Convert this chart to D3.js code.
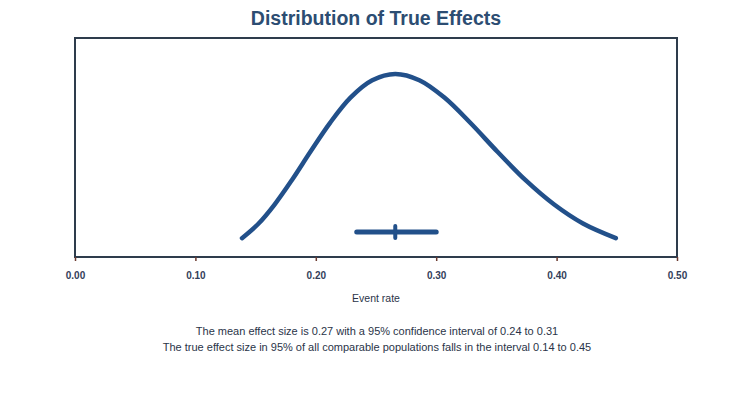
<!DOCTYPE html>
<html><head><meta charset="utf-8">
<script src="https://cdn.jsdelivr.net/npm/d3@7"></script>
<style>body{margin:0;background:#fff;}svg{display:block;}</style>
</head><body>
<svg id="c" width="753" height="413"></svg>
<script>
// Data
const curveX = [0.1387,0.1525,0.1659,0.1802,0.1955,0.2117,0.2288,0.2469,0.2660,0.2860,0.3068,0.3285,0.3509,0.3740,0.3977,0.4219,0.4492];
const curveY = [0.103,0.183,0.288,0.421,0.575,0.732,0.871,0.966,1.000,0.966,0.871,0.732,0.575,0.421,0.288,0.183,0.103];
const ciLow = 0.234, ciHigh = 0.300, meanValue = 0.266;
const tickValues = [0.0,0.1,0.2,0.3,0.4,0.5];
const titleText = "Distribution of True Effects";
const xLabel = "Event rate";
const notes = ["The mean effect size is 0.27 with a 95%  confidence interval of 0.24 to 0.31",
               "The true effect size in 95% of all comparable populations falls in the interval 0.14 to 0.45"];

const svg = d3.select("#c");
const box = {l:75, r:677, t:38, b:257};
const x = d3.scaleLinear().domain([0,0.5]).range([box.l, box.r]);
const y = d3.scaleLinear().domain([0,1]).range([257,74]);
const navy = "#22508a";

svg.append("text").attr("x",376).attr("y",25).attr("text-anchor","middle")
  .attr("font-family","Liberation Sans, Arial, sans-serif").attr("font-weight","bold")
  .attr("font-size",19.5).attr("fill","#2c4d72").text(titleText);

svg.append("rect").attr("x",box.l).attr("y",box.t).attr("width",box.r-box.l).attr("height",box.b-box.t)
  .attr("fill","none").attr("stroke","#2e3c4c").attr("stroke-width",2);

const axis = d3.axisBottom(x).tickValues(tickValues).tickFormat(d3.format(".2f")).tickSize(4).tickPadding(11);
const ax = svg.append("g").attr("transform",`translate(0,${box.b})`).call(axis);
ax.select(".domain").remove();
ax.selectAll(".tick line").attr("stroke","#6b3a30").attr("stroke-width",1.5);
ax.selectAll(".tick text").attr("font-family","Liberation Sans Narrow, Liberation Sans, Arial, sans-serif")
  .attr("font-size",10).attr("font-weight","bold").attr("fill","#33405a");

const pts = curveX.map((v,i)=>[v,curveY[i]]);
svg.append("path").datum(pts)
  .attr("d", d3.line().x(d=>x(d[0])).y(d=>y(d[1])).curve(d3.curveCatmullRom))
  .attr("fill","none").attr("stroke",navy).attr("stroke-width",4.5).attr("stroke-linecap","round");

const ciY = 232;
svg.append("line").attr("x1",x(ciLow)).attr("x2",x(ciHigh)).attr("y1",ciY).attr("y2",ciY)
  .attr("stroke",navy).attr("stroke-width",5).attr("stroke-linecap","round");
svg.append("line").attr("x1",x(meanValue)).attr("x2",x(meanValue)).attr("y1",ciY-6).attr("y2",ciY+6)
  .attr("stroke",navy).attr("stroke-width",4).attr("stroke-linecap","round");

svg.append("text").attr("x",376).attr("y",302).attr("text-anchor","middle")
  .attr("font-family","Liberation Sans, Arial, sans-serif").attr("font-size",10.5)
  .attr("fill","#2a3448").text(xLabel);

notes.forEach((t,i)=>{
  svg.append("text").attr("x",377).attr("y",335+i*16).attr("text-anchor","middle")
    .attr("font-family","Liberation Sans, Arial, sans-serif").attr("font-size",11)
    .attr("fill","#2a3448").text(t);
});
</script>
</body></html>
